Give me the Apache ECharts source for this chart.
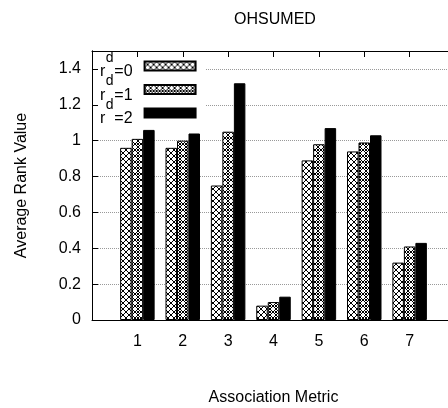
<!DOCTYPE html>
<html>
<head>
<meta charset="utf-8">
<script src="https://cdn.jsdelivr.net/npm/echarts@6/dist/echarts.min.js"></script>
<style>
  html, body { margin: 0; padding: 0; background: #fff; }
  #chart { width: 448px; height: 408px; }
</style>
</head>
<body>
<div id="chart"></div>
<script>
// data
const metrics = [1, 2, 3, 4, 5, 6, 7]
const seriesNames = ['r^d=0', 'r^d=1', 'r^d=2']
const rd0 = [0.96, 0.96, 0.75, 0.08, 0.89, 0.94, 0.32]
const rd1 = [1.01, 1.00, 1.05, 0.10, 0.98, 0.99, 0.41]
const rd2 = [1.06, 1.04, 1.32, 0.13, 1.07, 1.03, 0.43]
const yTicks = [0, 0.2, 0.4, 0.6, 0.8, 1, 1.2, 1.4]

// hatch tiles like gnuplot fill patterns
const makeTile = (kind) => {
  const c = document.createElement('canvas')
  const n = 6
  c.width = n
  c.height = n
  const g = c.getContext('2d')
  g.fillStyle = '#fff'
  g.fillRect(0, 0, n, n)
  g.strokeStyle = '#000'
  g.lineWidth = 1
  g.beginPath()
  g.moveTo(0, 0); g.lineTo(n, n)
  g.moveTo(n, 0); g.lineTo(0, n)
  g.stroke()
  if (kind === 1) {
    g.beginPath()
    g.moveTo(0, n / 2); g.lineTo(n / 2, 0)
    g.moveTo(n / 2, n); g.lineTo(n, n / 2)
    g.moveTo(0, n / 2); g.lineTo(n / 2, n)
    g.moveTo(n / 2, 0); g.lineTo(n, n / 2)
    g.stroke()
    g.fillStyle = '#fff'
    g.beginPath()
    g.arc(n / 2, n / 2, 1.2, 0, Math.PI * 2)
    g.fill()
  }
  return c
}

const fills = [
  { image: makeTile(0), repeat: 'repeat' },
  { image: makeTile(1), repeat: 'repeat' },
  '#000'
]
const values = [rd0, rd1, rd2]

const myChart = echarts.init(document.getElementById('chart'), null, { renderer: 'canvas' })

const font = 'Liberation Sans, Arial, sans-serif'

const frameAxis = {
  axisLine: { show: true, onZero: false, lineStyle: { color: '#000', width: 1 } },
  axisTick: { show: true, inside: true, length: 6, lineStyle: { color: '#000' } }
}

myChart.setOption({
  animation: false,
  textStyle: { fontFamily: font },
  title: {
    text: 'OHSUMED',
    left: 270,
    textAlign: 'center',
    top: 7,
    textStyle: { fontSize: 16, fontWeight: 'normal', color: '#000', fontFamily: font }
  },
  legend: {
    orient: 'vertical',
    left: 93,
    top: 51,
    z: 4,
    align: 'right',
    icon: 'rect',
    itemWidth: 51,
    itemHeight: 9,
    itemGap: -5.5,
    padding: [0, 9, 0, 7],
    backgroundColor: '#fff',
    selectedMode: false,
    data: seriesNames,
    // superscript d sits on its own short line above r=…
    formatter: (name) => '{s|d}\n{b|r}{g| }{b|=' + name.split('=')[1] + '}',
    textStyle: {
      color: '#000',
      fontFamily: font,
      padding: [0, 7, 0, 0],
      rich: {
        s: { fontSize: 14, lineHeight: 12, fontFamily: font, color: '#000', padding: [0, 19, 0, 0] },
        b: { fontSize: 16, lineHeight: 16, fontFamily: font, color: '#000' },
        g: { fontSize: 16, lineHeight: 16, width: 9 }
      }
    }
  },
  grid: {
    left: 92,
    top: 51,
    right: -7,
    height: 269,
    outerBoundsMode: 'none',
    containLabel: false,
    show: false
  },
  xAxis: [{
    type: 'value',
    min: 0,
    max: 8,
    interval: 1,
    name: 'Association Metric',
    nameLocation: 'middle',
    nameGap: 70,
    nameTextStyle: { fontSize: 16, color: '#000', fontFamily: font },
    ...frameAxis,
    axisLabel: {
      margin: 14,
      fontSize: 16,
      color: '#000',
      fontFamily: font,
      formatter: (v) => (metrics.indexOf(v) >= 0 ? String(v) : '')
    },
    splitLine: { show: false }
  }, {
    type: 'value',
    position: 'top',
    z: 6,
    min: 0,
    max: 8,
    interval: 1,
    ...frameAxis,
    axisLabel: { show: false },
    splitLine: { show: false }
  }],
  yAxis: [{
    type: 'value',
    min: 0,
    max: 1.5,
    interval: 0.2,
    name: 'Average Rank Value',
    nameLocation: 'middle',
    nameGap: 62,
    nameTextStyle: { fontSize: 16, color: '#000', fontFamily: font },
    ...frameAxis,
    axisLabel: {
      margin: 11,
      fontSize: 16,
      color: '#000',
      fontFamily: font,
      showMaxLabel: false,
      formatter: (v) => (yTicks.some(t => Math.abs(t - v) < 1e-6) ? String(+v.toFixed(1)) : '')
    },
    splitLine: { show: true, lineStyle: { color: '#999', type: [1, 1], width: 1 } }
  }, {
    // left frame line and ticks drawn above the key box
    type: 'value',
    position: 'left',
    z: 6,
    min: 0,
    max: 1.5,
    interval: 0.2,
    ...frameAxis,
    axisLabel: { show: false },
    splitLine: { show: false }
  }],
  series: seriesNames.map((name, i) => ({
    name: name,
    type: 'bar',
    xAxisIndex: 0,
    yAxisIndex: 0,
    barWidth: 11.5,
    barGap: '0%',
    itemStyle: { color: fills[i], borderColor: '#000', borderWidth: 1 },
    data: metrics.map((m, j) => [m, values[i][j]])
  }))
})
</script>
</body>
</html>
